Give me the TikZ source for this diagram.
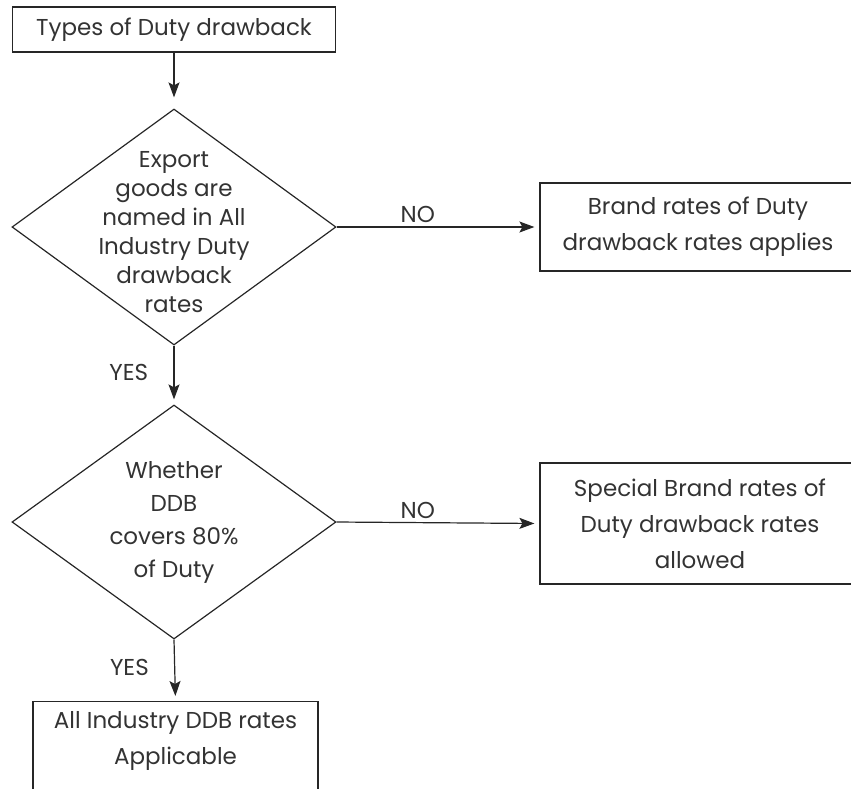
\documentclass[tikz,border=0pt]{standalone}
\usepackage{fontspec}
\setmainfont{Poppins}
\usetikzlibrary{shapes.geometric, arrows.meta, positioning}
\tikzset{
  txt/.style={text=black!80, align=center, font=\fontsize{23}{36}\selectfont},
  box/.style={
    rectangle, txt, draw=black!85, line width=1.2pt, inner sep=0pt
  },
  decision/.style={
    diamond, draw=black!85, line width=1.2pt, inner sep=0pt,
    minimum width=324pt
  },
  arr/.style={-{Stealth[length=15pt, width=11pt, inset=3pt]},
              line width=1.2pt, draw=black!85, shorten >=5pt},
}

\begin{document}
\begin{tikzpicture}[x=1pt, y=1pt]
  \useasboundingbox (0,0) rectangle (851,-788);
  \clip (0,0) rectangle (851,-788);

  % Main column
  \node[box, minimum width=323pt, minimum height=45pt] (types) at (174,-29.5) {Types of Duty drawback};
  \node[decision, minimum height=236pt] (named) at (174,-227) {};
  \node[txt, font=\fontsize{23}{29}\selectfont] (namedtxt) at (174,-232) {Export\\goods are\\named in All\\Industry Duty\\drawback\\rates};
  \node[decision, minimum height=234pt] (covers) at (174,-522) {};
  \node[txt, font=\fontsize{23}{33}\selectfont] (coverstxt) at (covers.center) {Whether\\DDB\\covers 80\%\\of Duty};
  \node[box, anchor=north, minimum width=285pt, minimum height=120pt] (allind) at (175.5,-701) {};
  \node[txt] (allindtxt) at (175.5,-741) {All Industry DDB rates\\Applicable};

  % Right column
  \node[box, minimum width=316pt, minimum height=88pt] (brand) at (698,-227) {Brand rates of Duty\\drawback rates applies};
  \node[box, minimum width=320pt, minimum height=121pt] (special) at (700,-523.5) {Special Brand rates of\\Duty drawback rates\\allowed};

  % Arrows
  \draw[arr, shorten >=11pt] (types) -- (named);
  \draw[arr] (named.south) -- node[txt, pos=0.45, left, xshift=-22pt] (yes1) {YES} (covers.north);
  \draw[arr] (covers.south) -- node[txt, pos=0.46, left, xshift=-22pt] (yes2) {YES} (allind.north);
  \draw[arr] (named.east) -- node[txt, pos=0.4, above] (no1) {NO} (brand.west);
  \draw[arr] (covers.east) -- node[txt, pos=0.4, above] (no2) {NO} (special.west);
\end{tikzpicture}
\end{document}
